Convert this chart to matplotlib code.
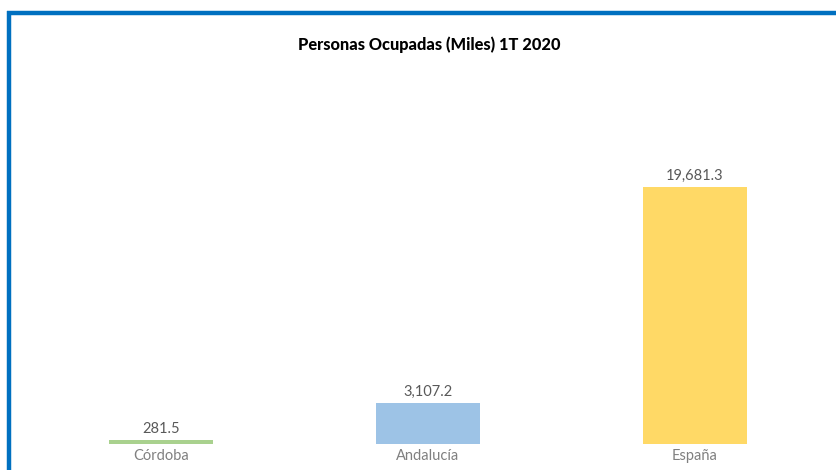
import matplotlib.pyplot as plt
from matplotlib.lines import Line2D

categories = ["Córdoba", "Andalucía", "España"]
values = [281.5, 3107.2, 19681.3]
colors = ["#A9D18E", "#9DC3E6", "#FFD966"]

plt.rcParams['font.family'] = ['Lato', 'DejaVu Sans']

fig = plt.figure(figsize=(8.37, 4.70), dpi=100)
ax = fig.add_axes([27.5 / 837, 26 / 470, 801 / 837, 313 / 470])

bars = ax.bar(range(len(categories)), values, width=0.39, color=colors)
ax.set_xlim(-0.5, 2.5)
ax.set_ylim(0, 24000)

for b, v in zip(bars, values):
    ax.annotate(f"{v:,.1f}", (b.get_x() + b.get_width() / 2, v),
                xytext=(0, 3), textcoords="offset points",
                ha="center", va="bottom", fontsize=10.5, color="#595959")

ax.set_xticks(range(len(categories)))
ax.set_xticklabels(categories, fontsize=10.5, color="#808080")
ax.tick_params(axis="x", length=0, pad=3.5)
ax.set_yticks([])
for s in ax.spines.values():
    s.set_visible(False)

fig.text(429 / 837, 1 - 45 / 470, "Personas Ocupadas (Miles) 1T 2020",
         ha="center", va="center", fontsize=11.8, fontweight="black", color="black")

# blue frame (top and left only, rest is cut off)
fig.add_artist(Line2D([9 / 837, 9 / 837], [0, 1 - 11 / 470], transform=fig.transFigure,
                      color="#0070C0", lw=3.2, solid_capstyle="butt"))
fig.add_artist(Line2D([7 / 837, 1], [1 - 13 / 470, 1 - 13 / 470], transform=fig.transFigure,
                      color="#0070C0", lw=3.2, solid_capstyle="butt"))

fig.savefig("out.png", dpi=100)
